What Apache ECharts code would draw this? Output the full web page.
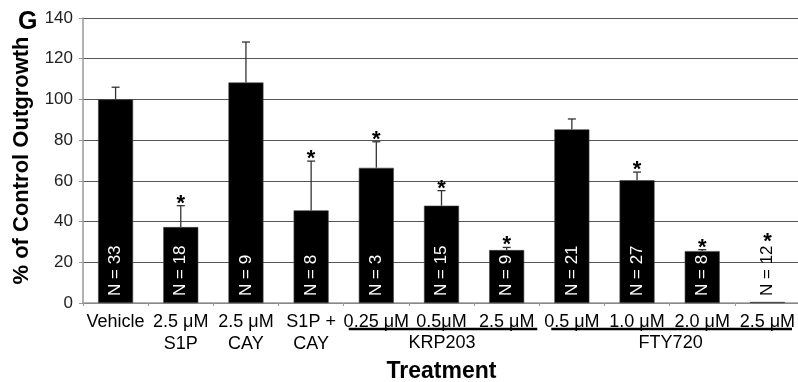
<!DOCTYPE html>
<html>
<head>
<meta charset="utf-8">
<script src="https://cdn.jsdelivr.net/npm/echarts@6/dist/echarts.min.js"></script>
<style>
html,body{margin:0;padding:0;background:#fff;}
#c{width:798px;height:382px;}
</style>
</head>
<body>
<div id="c"></div>
<script>
const categories = ['Vehicle', '2.5 μM\nS1P', '2.5 μM\nCAY', 'S1P +\nCAY', '0.25 μM', '0.5μM', '2.5 μM', '0.5 μM', '1.0 μM', '2.0 μM', '2.5 μM'];
const means = [100, 37.3, 108.3, 45.5, 66.4, 47.8, 26.0, 85.3, 60.3, 25.5, 0.5];
const errTops = [106, 47.8, 128.2, 69.7, 79.2, 55.2, 27.3, 90.4, 64.3, 26.2, null];
const nCounts = [33, 18, 9, 8, 3, 15, 9, 21, 27, 8, 12];
const significant = [false, true, false, true, true, true, true, false, true, true, true];
const groupNames = ['KRP203', 'FTY720'];
const groupStart = [4, 7];
const groupEnd = [6, 10];
const yMin = 0, yMax = 140, yStep = 20;

const FONT = '"Liberation Sans", Arial, sans-serif';
const chart = echarts.init(document.getElementById('c'), null, {renderer: 'canvas'});

const barData = means.map((v, i) => ({
  value: v,
  label: {color: v < 5 ? '#000' : '#fff'}
}));
const errData = means.map((v, i) => [i, v, errTops[i] == null ? NaN : errTops[i], significant[i] ? 1 : 0]);

chart.setOption({
  animation: false,
  backgroundColor: '#fff',
  grid: {left: 83, top: 18, width: 717, bottom: 79, containLabel: false, outerBoundsMode: 'none'},
  title: {
    text: 'G', left: 13, top: 5,
    textStyle: {fontFamily: FONT, fontWeight: 'bold', fontSize: 25, color: '#000'}
  },
  xAxis: {
    type: 'category',
    data: categories,
    name: 'Treatment',
    nameLocation: 'middle',
    nameGap: 54,
    nameTextStyle: {fontFamily: FONT, fontWeight: 'bold', fontSize: 23, color: '#000'},
    axisLine: {lineStyle: {color: '#999', width: 1.5}},
    axisTick: {show: true, length: 3, lineStyle: {color: '#999'}},
    axisLabel: {fontFamily: FONT, fontSize: 18, color: '#000', margin: 8, lineHeight: 22, interval: 0}
  },
  yAxis: {
    type: 'value',
    min: yMin, max: yMax, interval: yStep,
    name: '% of Control Outgrowth',
    nameLocation: 'middle',
    nameGap: 50,
    nameRotate: 90,
    nameTextStyle: {fontFamily: FONT, fontWeight: 'bold', fontSize: 22, color: '#000'},
    axisLine: {show: true, lineStyle: {color: '#999', width: 1.5}},
    axisTick: {show: true, length: 4, lineStyle: {color: '#999'}},
    axisLabel: {fontFamily: FONT, fontSize: 17, color: '#222', margin: 10},
    splitLine: {show: true, lineStyle: {color: '#555', width: 1.2}}
  },
  series: [
    {
      type: 'bar',
      data: barData,
      barWidth: 35,
      itemStyle: {color: '#000', borderColor: '#444', borderWidth: 0.6},
      label: {
        show: true,
        position: 'insideBottom',
        rotate: 90,
        align: 'left',
        verticalAlign: 'middle',
        distance: 7,
        fontFamily: FONT,
        fontSize: 17,
        formatter: p => 'N = ' + nCounts[p.dataIndex]
      },
      z: 2
    },
    {
      type: 'custom',
      data: errData,
      z: 3,
      renderItem: function (params, api) {
        const i = api.value(0);
        const m = api.value(1);
        const t = api.value(2);
        const sig = api.value(3);
        const base = api.coord([i, m]);
        const children = [];
        let starY;
        if (!isNaN(t)) {
          const top = api.coord([i, t]);
          children.push({type: 'line', shape: {x1: base[0], y1: base[1], x2: base[0], y2: top[1]}, style: {stroke: '#333', lineWidth: 1.3}});
          children.push({type: 'line', shape: {x1: base[0] - 4, y1: top[1], x2: base[0] + 4, y2: top[1]}, style: {stroke: '#333', lineWidth: 1.3}});
          starY = top[1] - 2;
        } else {
          const zero = api.coord([i, 0]);
          starY = zero[1] - 61;
        }
        if (sig) {
          children.push({type: 'text', style: {text: '*', x: base[0], y: starY, align: 'center', verticalAlign: 'middle', fontFamily: FONT, fontSize: 22, fontWeight: 'bold', fill: '#000'}});
        }
        return {type: 'group', children: children};
      }
    }
  ]
});

// group labels with underlines, computed from the axis
const band = chart.getModel().getComponent('xAxis', 0).axis.getBandWidth();
const graphics = [];
for (let g = 0; g < groupNames.length; g++) {
  const c0 = chart.convertToPixel({xAxisIndex: 0}, groupStart[g]);
  const c1 = chart.convertToPixel({xAxisIndex: 0}, groupEnd[g]);
  const x0 = c0 - band / 2 + (g === 0 ? 5 : 12);
  const x1 = c1 + band / 2 - (g === 0 ? 2 : 8);
  const y0 = chart.convertToPixel({yAxisIndex: 0}, 0);
  graphics.push({type: 'line', shape: {x1: x0, y1: y0 + 26, x2: x1, y2: y0 + 26}, style: {stroke: '#000', lineWidth: 2.5}});
  graphics.push({type: 'text', style: {text: groupNames[g], x: (x0 + x1) / 2 - 1, y: y0 + 40, align: 'center', verticalAlign: 'middle', fontFamily: FONT, fontSize: 18, fill: '#000'}});
}
chart.setOption({graphic: graphics});
</script>
</body>
</html>
